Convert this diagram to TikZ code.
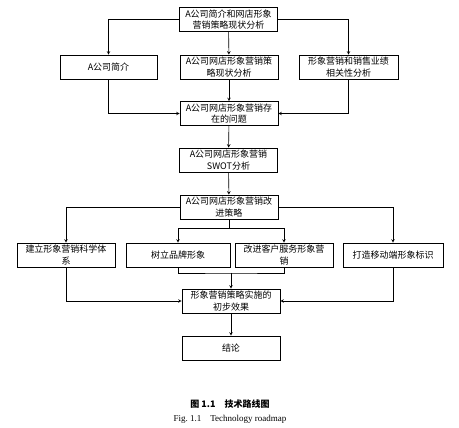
\documentclass[tikz,border=0pt]{standalone}
\usepackage{fontspec}
\setmainfont{Liberation Serif}
\newfontfamily\cjk{Noto Sans CJK SC}
\usepackage{tikz}

\begin{document}
\begin{tikzpicture}[x=1pt, y=-1pt, line width=0.6pt,
    box/.style={draw, minimum width=98pt, minimum height=24pt, inner sep=1pt,
        align=center, font=\cjk\fontsize{9}{11.5}\selectfont},
    >={stealth}]
    \useasboundingbox (0, 0) rectangle (459, 428);

    \node[box] at (228.5, 19.5) (top) {A公司简介和网店形象\\营销策略现状分析};
    \node[box, minimum width=97pt] at (108.5, 67) (intro) {A公司简介};
    \node[box] at (229, 67) (status) {A公司网店形象营销策\\略现状分析};
    \node[box, minimum width=99pt] at (348.5, 67) (relation) {形象营销和销售业绩\\相关性分析};
    \node[box] at (229, 113.5) (problem) {A公司网店形象营销存\\在的问题};
    \node[box] at (228.5, 160) (swot) {A公司网店形象营销\\SWOT分析};
    \node[box] at (229, 207) (improve) {A公司网店形象营销改\\进策略};
    \node[box] at (66, 255) (system) {建立形象营销科学体\\系};
    \node[box, minimum width=104pt] at (178, 255) (brand) {树立品牌形象};
    \node[box] at (284, 255) (service) {改进客户服务形象营\\销};
    \node[box, minimum width=100pt] at (393, 255) (mobile) {打造移动端形象标识};
    \node[box] at (231, 301) (effect) {形象营销策略实施的\\初步效果};
    \node[box] at (231, 348) (result) {结论};

    \coordinate (split) at (229, 228);
    \coordinate (merge) at (231, 273);

    \draw[->] (top.west) -| (intro.north);
    \draw[->] (top) -- (status);
    \draw[->] (top.east) -| (relation.north);
    \draw[->] (status) -- (problem);
    \draw[->] (intro.south) |- (problem.west);
    \draw[->] (relation.south) |- (problem.east);
    \draw[->] (problem) -- (swot);
    \draw[->] (swot) -- (improve);
    \draw[->] (improve.west) -| (system.north);
    \draw[->] (improve.east) -| (mobile.north);
    \draw (improve.south) -- (split);
    \draw[->] (split) -| (brand.north);
    \draw[->] (split) -| (service.north);
    \draw (brand.south) |- (merge) -| (service.south);
    \draw[->] (merge) -- (effect);
    \draw[->] (system.south) |- (effect.west);
    \draw[->] (mobile.south) |- (effect.east);
    \draw[->] (effect) -- (result);

    \node at (230, 404) (caption) {\cjk\bfseries\fontsize{9}{11}\selectfont 图 1.1\quad 技术路线图};
    \node at (230, 419) (caption en) {\fontsize{9}{11}\selectfont Fig.~1.1\quad Technology roadmap};
\end{tikzpicture}
\end{document}
